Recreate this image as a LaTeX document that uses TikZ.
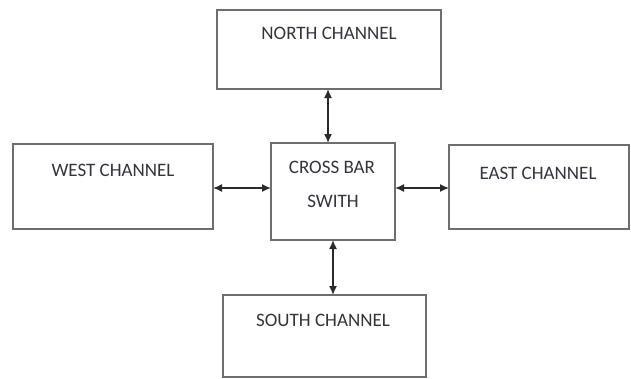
\documentclass[tikz,border=0pt]{standalone}
\usepackage{fontspec}
\setmainfont{Carlito}
\usetikzlibrary{arrows.meta}
\definecolor{boxline}{HTML}{6E6E6E}
\definecolor{txt}{HTML}{34343F}
\definecolor{arr}{HTML}{2A2A2A}
\begin{document}
\begin{tikzpicture}[x=1pt,y=-1pt,
  blk/.style={draw=boxline,line width=1.8pt,fill=white,inner sep=0pt,outer sep=0pt},
  lbl/.style={text=txt,font=\fontsize{19}{22}\selectfont,inner sep=0pt,anchor=center},
  link/.style={draw=arr,line width=1.5pt,{Latex[length=9pt,width=8pt]}-{Latex[length=9pt,width=8pt]}}]
\useasboundingbox (0,0) rectangle (631,378);
\fill[white] (0,0) rectangle (631,378);
% boxes
\node[blk,minimum width=224pt,minimum height=79pt] (north) at (329,49.5) {};
\node[blk,minimum width=200pt,minimum height=85pt] (west) at (113,186.5) {};
\node[blk,minimum width=124pt,minimum height=97pt] (cross) at (333,191.5) {};
\node[blk,minimum width=180pt,minimum height=84pt] (east) at (539,187) {};
\node[blk,minimum width=203pt,minimum height=82pt] (south) at (324.5,336) {};
% labels
\node[lbl] (tn) at (329,33) {NORTH CHANNEL};
\node[lbl] (tw) at (113,170) {WEST CHANNEL};
\node[lbl] (tc1) at (332,167) {CROSS BAR};
\node[lbl] (tc2) at (333,201) {SWITH};
\node[lbl] (te) at (538,173) {EAST CHANNEL};
\node[lbl] (ts) at (323,320) {SOUTH CHANNEL};
% connectors
\draw[link] (north.south -| 328,0) -- (cross.north -| 328,0);
\draw[link] (cross.south -| 333,0) -- (south.north -| 333,0);
\draw[link] (west.east |- 0,188) -- (cross.west |- 0,188);
\draw[link] (cross.east |- 0,188) -- (east.west |- 0,188);
\end{tikzpicture}
\end{document}
